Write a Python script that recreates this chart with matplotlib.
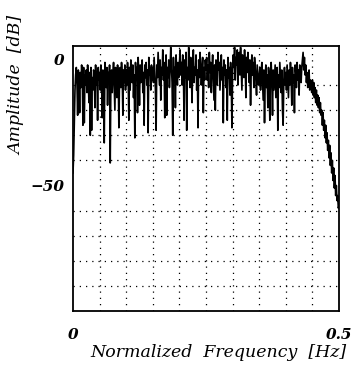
import numpy as np
import matplotlib
matplotlib.use("Agg")
import matplotlib.pyplot as plt

# amplitude spectrum in dB (401 points, 0 .. 0.5 Hz)
amp_db = [
    -45, -38, -24, -12, -6, -3, -9, -22, -4, -8, -21, -5, -11, -2, -7, -26, -3, -25, -6, -10,
    -4, -13, -2, -8, -17, -5, -30, -3, -28, -7, -12, -4, -6, -19, -2, -10, -5, -24, -3, -8,
    -5, -12, -2, -9, -23, -4, -7, -33, -1, -6, -11, -3, -18, -5, -9, -2, -41, -8, -4, -13,
    -6, -1, -10, -20, -3, -7, -15, -2, -5, -27, -8, -3, -11, -1, -6, -22, -4, -9, -2, -12,
    -4, -10, -1, -7, -24, -3, -12, 0, -5, -9, -2, -15, -6, -31, -1, -8, -3, -21, 1, -6,
    -18, -2, -9, -4, 0, -13, -5, -26, -2, -7, -1, -10, -4, -29, 1, -6, -3, -12, -2, -8,
    -3, -9, 1, -5, -12, -28, -2, -7, 3, -4, -10, 0, -16, -3, -6, 4, -8, -1, -23, -5,
    2, -22, -3, -7, 0, -11, -4, 5, -2, -9, -30, 1, -6, -3, -19, 2, -5, -10, -1, -7,
    -2, 4, -6, -1, -10, 2, -4, -24, 0, -7, 3, -28, -3, -8, 5, -2, -11, 1, -5, -17,
    -1, 4, -9, -3, -6, 2, -12, -4, -27, 0, -7, 3, -2, -10, -5, 1, -21, -3, -8, 0,
    -4, 1, -8, -2, -11, 3, -5, -1, -13, -3, 2, -7, -16, -2, -20, 0, -6, -10, 3, -4,
    -1, -12, -5, 2, -8, -3, -25, 0, -6, -2, -11, -4, -24, 1, -7, -3, -14, -1, -9, -27,
    -5, 2, -3, 5, -8, 1, -2, 4, -10, -1, 3, -6, 5, -4, -12, 2, -1, -7, 4, -3,
    -15, 1, -5, 3, -2, -9, 0, -18, -4, 2, -6, -1, -11, 1, -3, -8, -14, -2, -6, -10,
    -7, -3, -12, -5, -1, -9, -16, -4, -25, -8, -2, -11, -6, -19, -3, -10, -24, -5, -1, -8,
    -22, -4, -12, -7, -2, -15, -9, -3, -28, -6, -11, -1, -7, -13, -4, -20, -26, -8, -3, -10,
    -5, -12, -2, -8, -15, -4, -10, -1, -7, -18, -3, -9, -6, -21, -2, -5, -11, -1, -8, -4,
    -14, -2, -6, -9, -3, 0, 3, -4, 1, -6, -2, -9, -5, -11, -7, -4, -12, -8, -10, -13,
    -8, -14, -9, -15, -11, -17, -12, -18, -14, -19, -15, -21, -17, -22, -20, -26, -21, -28, -24, -31,
    -26, -33, -29, -36, -32, -39, -34, -42, -37, -45, -40, -48, -43, -51, -46, -54, -50, -56, -54, -59,
    -58,
]
freq = np.linspace(0, 0.5, len(amp_db))

x_grid = [0.05, 0.1, 0.15, 0.2, 0.25, 0.3, 0.35, 0.4, 0.45]
y_grid = [0, -10, -20, -30, -40, -50, -60, -70, -80, -90]

fig = plt.figure(figsize=(3.59, 3.66), dpi=100)
ax = fig.add_axes([0.2033, 0.150, 0.741, 0.724])

ax.plot(freq, amp_db, color="black", linewidth=1.2)

ax.set_xlim(0, 0.5)
ax.set_ylim(-100, 5.5)

# dotted grid through minor ticks, labels only at the ends
ax.set_xticks(x_grid, minor=True)
ax.set_yticks(y_grid, minor=True)
ax.set_xticks([0, 0.5])
ax.set_yticks([0, -50])
ax.grid(which="minor", color="black", linestyle=(0, (1, 4)), linewidth=0.9)
ax.tick_params(which="both", length=0)

tick_font = dict(family="DejaVu Serif", style="italic", weight="bold", size=11)
ax.set_xticklabels(["0", "0.5"], **tick_font)
ax.set_yticklabels(["0", "\u221250"], **tick_font)
ax.tick_params(axis="x", pad=12)
ax.tick_params(axis="y", pad=6)

label_font = dict(family="DejaVu Serif", style="italic", size=12.5)
ax.set_xlabel("Normalized  Frequency  [Hz]", **label_font)
ax.set_ylabel("Amplitude  [dB]", **label_font)
ax.xaxis.set_label_coords(0.545, -0.125)
ax.yaxis.set_label_coords(-0.18, 0.853)

for s in ax.spines.values():
    s.set_linewidth(1.3)
    s.set_color("black")

fig.savefig("out.png", dpi=100)
